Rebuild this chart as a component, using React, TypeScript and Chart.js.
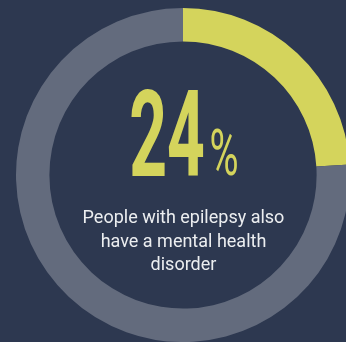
import React, { useEffect, useRef } from "react";
import { Chart, registerables } from "chart.js";

Chart.register(...registerables);

const categories = ["With mental health disorder", "Without"];
const values = [24, 76];
const colors = ["#d4d45c", "#636b7d"];
const bigNumber = "24";
const percentSign = "%";
const captionLines = ["People with epilepsy also", "have a mental health", "disorder"];

export default function App() {
  const ref = useRef<HTMLCanvasElement | null>(null);
  useEffect(() => {
    if (!ref.current) return;
    const chart = new Chart(ref.current, {
      type: "doughnut",
      data: {
        labels: categories,
        datasets: [{ data: values, backgroundColor: colors, borderWidth: 0 }],
      },
      options: {
        responsive: true,
        maintainAspectRatio: false,
        animation: false,
        cutout: "80%",
        layout: { padding: 0 },
        plugins: { legend: { display: false }, tooltip: { enabled: false } },
      },
    });
    return () => chart.destroy();
  }, []);

  return (
    <div
      style={{
        position: "absolute",
        left: 0,
        top: 0,
        width: 346,
        height: 342,
        background: "#2d3850",
        overflow: "hidden",
        fontFamily: "Roboto, sans-serif",
      }}
    >
      <div style={{ position: "absolute", left: 16.3, top: 7.5, width: 334, height: 334 }}>
        <canvas ref={ref} />
      </div>
      <div
        style={{
          position: "absolute",
          left: 167,
          top: 75,
          fontSize: 120,
          lineHeight: "120px",
          fontWeight: 700,
          color: "#d4d45c",
          whiteSpace: "nowrap",
          transform: "translateX(-50%) scaleX(0.55)",
        }}
      >
        {bigNumber}
      </div>
      <div
        style={{
          position: "absolute",
          left: 224,
          top: 176 - 0.842 * 64,
          fontSize: 64,
          lineHeight: "64px",
          fontWeight: 400,
          color: "#d4d45c",
          whiteSpace: "nowrap",
          transform: "translateX(-50%) scaleX(0.62)",
        }}
      >
        {percentSign}
      </div>
      <div
        style={{
          position: "absolute",
          left: 0,
          top: 205,
          width: 367,
          textAlign: "center",
          fontSize: 18,
          lineHeight: "23.7px",
          color: "#eceef0",
          fontWeight: 400,
        }}
      >
        {captionLines.map((l, i) => (
          <div key={i}>{l}</div>
        ))}
      </div>
    </div>
  );
}
